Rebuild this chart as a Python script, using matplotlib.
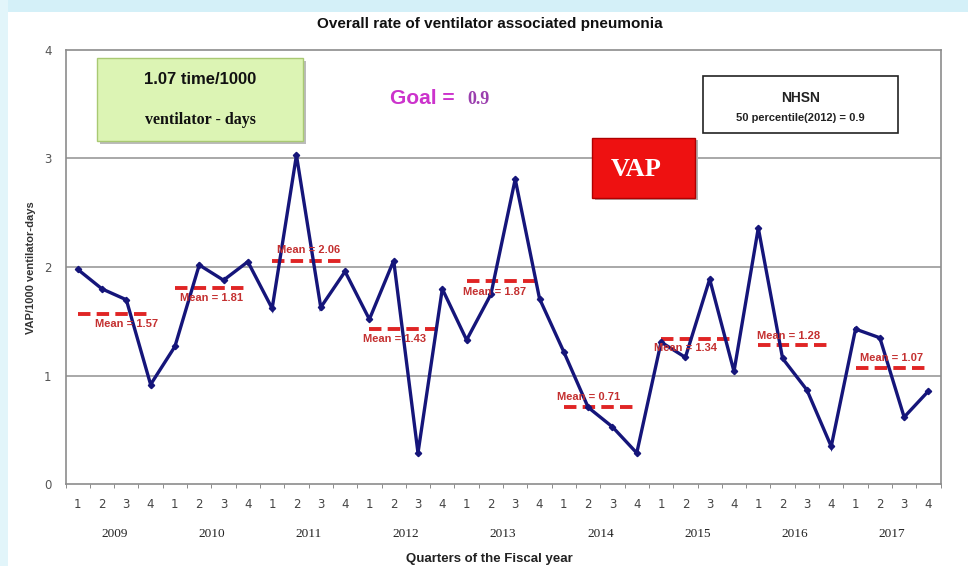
import matplotlib.pyplot as plt
import matplotlib.patches as mpatches
import matplotlib.transforms as mtransforms
import numpy as np

# Podatki: stopnja VAP po četrtletjih (2009-2017)
years = ["2009", "2010", "2011", "2012", "2013", "2014", "2015", "2016", "2017"]
quarters = ["1", "2", "3", "4"]
vap_rate = [1.98, 1.80, 1.70, 0.92,
            1.27, 2.02, 1.88, 2.05,
            1.62, 3.03, 1.63, 1.96,
            1.52, 2.06, 0.29, 1.80,
            1.33, 1.75, 2.81, 1.71,
            1.22, 0.71, 0.53, 0.29,
            1.31, 1.17, 1.89, 1.04,
            2.36, 1.16, 0.87, 0.35,
            1.43, 1.35, 0.62, 0.86]
year_means = [1.57, 1.81, 2.06, 1.43, 1.87, 0.71, 1.34, 1.28, 1.07]
y_ticks = [0, 1, 2, 3, 4]

# postavitev oznak povprečij (odmik v četrtletjih, zgoraj/spodaj v točkah)
label_dx = [0.5, 0.0, 0.0, -0.45, -0.35, -0.5, -0.5, -0.25, 0.0]
label_dy = [-10, -10, 12, -10, -12, 10, -9, 9, 11]

SERIF = ["Liberation Serif", "DejaVu Serif"]
NARROW = ["Liberation Sans Narrow", "Liberation Sans", "DejaVu Sans"]
SANS = ["Liberation Sans", "DejaVu Sans"]

fig = plt.figure(figsize=(9.68, 5.66), dpi=100)
fig.patch.set_facecolor("white")

# svetlo modri rob kot na prosojnici
fig.add_artist(mpatches.Rectangle((0, 0.978), 1, 0.022, transform=fig.transFigure,
                                  color="#d4f0f8", lw=0, zorder=0))
fig.add_artist(mpatches.Rectangle((0, 0), 0.008, 1, transform=fig.transFigure,
                                  color="#e2f5fa", lw=0, zorder=0))

ax = fig.add_axes([0.0677, 0.1440, 0.9040, 0.7680])

n = len(vap_rate)
x = np.arange(n)

# mreža
for yv in y_ticks[1:-1]:
    ax.axhline(yv, color="#999999", linewidth=1.2, zorder=1)

# povprečja po letih
for i, m in enumerate(year_means):
    x0, x1 = i * 4, i * 4 + 3
    ax.plot([x0, x1], [m, m], color="#e02525", linewidth=2.8,
            dashes=(3.2, 1.6), zorder=2, solid_capstyle="butt")
    va = "bottom" if label_dy[i] > 0 else "top"
    ax.annotate(f"Mean = {m:.2f}", xy=(i * 4 + 1.5 + label_dx[i], m),
                xytext=(0, label_dy[i] * 0.35), textcoords="offset points",
                ha="center", va=va, fontsize=8, fontweight="bold",
                color="#c43030", family=SANS, zorder=4)

# glavna krivulja
ax.plot(x, vap_rate, color="#15157a", linewidth=2.4, marker="D", markersize=3.2,
        zorder=3, solid_joinstyle="miter")

ax.set_xlim(-0.5, n - 0.5)
ax.set_ylim(0, 4)
ax.set_yticks(y_ticks)
ax.set_xticks(x)
ax.set_xticklabels(quarters * len(years))
ax.set_xticks(np.arange(-0.5, n, 1), minor=True)
ax.tick_params(axis="x", which="major", length=0, pad=10, labelsize=8.5,
               labelcolor="#444444")
ax.tick_params(axis="x", which="minor", length=3, color="#777777", direction="out")
ax.tick_params(axis="y", length=0, pad=10, labelsize=8.5, labelcolor="#555555")
for s in ax.spines.values():
    s.set_color("#8c8c8c")
    s.set_linewidth(1.2)

# letnice
trans = mtransforms.blended_transform_factory(ax.transData, ax.transAxes)
for i, yr in enumerate(years):
    ax.text(i * 4 + 1.5, -0.113, yr, transform=trans, ha="center", va="center",
            fontsize=9.5, family=SERIF, color="#222222")

ax.set_ylabel("VAP/1000 ventilator-days", fontsize=8, fontweight="bold",
              color="#333333", family=SANS, labelpad=6)
fig.text(0.506, 0.012, "Quarters of the Fiscal year", ha="center", va="center",
         fontsize=9.5, fontweight="bold", family=NARROW, color="#222222")
fig.text(0.506, 0.957, "Overall rate of ventilator associated pneumonia",
         ha="center", va="center", fontsize=11, fontweight="bold",
         family=NARROW, color="#111111")

# zeleno polje
fig.add_artist(mpatches.Rectangle((0.1032, 0.7455), 0.2128, 0.1466,
                                  transform=fig.transFigure, color="#bbbbbb",
                                  lw=0, zorder=5))
fig.add_artist(mpatches.Rectangle((0.1002, 0.7509), 0.2128, 0.1466,
                                  transform=fig.transFigure, facecolor="#dcf4b4",
                                  edgecolor="#a9c973", lw=1, zorder=6))
fig.text(0.2066, 0.859, "1.07 time/1000", ha="center", va="center", fontsize=12,
         fontweight="bold", family=SANS, color="#111111", zorder=7)
fig.text(0.2066, 0.788, "ventilator - days", ha="center", va="center",
         fontsize=11.5, fontweight="bold", family=SERIF, color="#111111", zorder=7)

# cilj
fig.text(0.403, 0.826, "Goal =", ha="left", va="center", fontsize=15,
         fontweight="bold", family=SANS, color="#cc33cc")
fig.text(0.483, 0.824, "0.9", ha="left", va="center", fontsize=13,
         fontweight="bold", family=SERIF, color="#9b3fae")

# VAP polje
fig.add_artist(mpatches.Rectangle((0.6146, 0.6466), 0.1064, 0.1060,
                                  transform=fig.transFigure, color="#b0b0b0",
                                  lw=0, zorder=5))
fig.add_artist(mpatches.Rectangle((0.6116, 0.6502), 0.1064, 0.1060,
                                  transform=fig.transFigure, facecolor="#ee1111",
                                  edgecolor="#b00000", lw=1, zorder=6))
fig.text(0.657, 0.700, "VAP", ha="center", va="center", fontsize=19,
         fontweight="bold", family=SERIF, color="white", zorder=7)

# NHSN polje
fig.add_artist(mpatches.Rectangle((0.7262, 0.7650), 0.2015, 0.1007,
                                  transform=fig.transFigure, facecolor="white",
                                  edgecolor="#222222", lw=1.2, zorder=6))
fig.text(0.8270, 0.827, "NHSN", ha="center", va="center", fontsize=10,
         fontweight="bold", family=SANS, color="#222222", zorder=7)
fig.text(0.8270, 0.792, "50 percentile(2012) = 0.9", ha="center", va="center",
         fontsize=8, fontweight="bold", family=SANS, color="#222222", zorder=7)

plt.savefig("out.png", dpi=100)
